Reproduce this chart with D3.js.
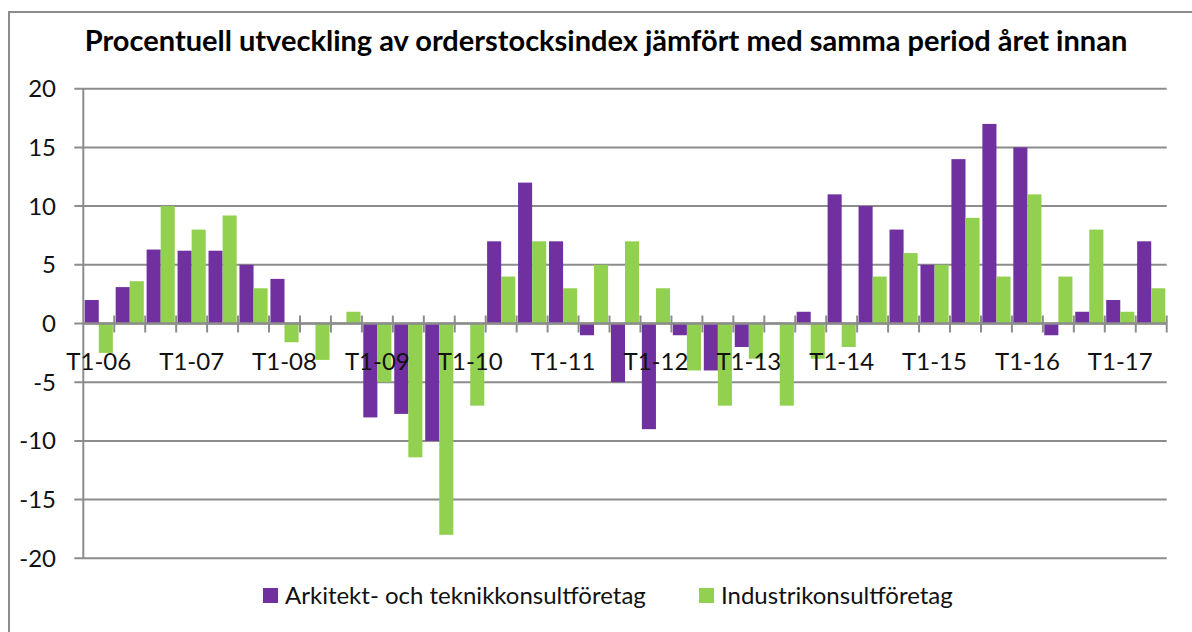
<!DOCTYPE html>
<html>
<head>
<meta charset="utf-8">
<script src="https://cdn.jsdelivr.net/npm/d3@7"></script>
<style>
  html, body { margin: 0; padding: 0; background: #fff; }
  svg { display: block; font-family: Lato, "Open Sans", sans-serif; }
</style>
</head>
<body>
<svg id="chart" width="1192" height="632"></svg>
<script>
// tertialer T1-06 .. T2-17
const categories = [
  'T1-06', 'T2-06', 'T3-06', 'T1-07', 'T2-07', 'T3-07',
  'T1-08', 'T2-08', 'T3-08', 'T1-09', 'T2-09', 'T3-09',
  'T1-10', 'T2-10', 'T3-10', 'T1-11', 'T2-11', 'T3-11',
  'T1-12', 'T2-12', 'T3-12', 'T1-13', 'T2-13', 'T3-13',
  'T1-14', 'T2-14', 'T3-14', 'T1-15', 'T2-15', 'T3-15',
  'T1-16', 'T2-16', 'T3-16', 'T1-17', 'T2-17'
];

const tickLabels = ['T1-06', 'T1-07', 'T1-08', 'T1-09', 'T1-10', 'T1-11',
  'T1-12', 'T1-13', 'T1-14', 'T1-15', 'T1-16', 'T1-17'];

const seriesNames = ['Arkitekt- och teknikkonsultföretag', 'Industrikonsultföretag'];

const arkitekt = [
  2, 3.1, 6.3, 6.2, 6.2, 5,
  3.8, null, null, -8, -7.7, -10,
  null, 7, 12, 7, -1, -5,
  -9, -1, -4, -2, null, 1,
  11, 10, 8, 5, 14, 17,
  15, -1, 1, 2, 7
];

const industri = [
  -2.5, 3.6, 10, 8, 9.2, 3,
  -1.6, -3.1, 1, -5, -11.4, -18,
  -7, 4, 7, 3, 5, 7,
  3, -4, -7, -3, -7, -3,
  -2, 4, 6, 5, 9, 4,
  11, 4, 8, 1, 3
];

const yTicks = [20, 15, 10, 5, 0, -5, -10, -15, -20];

const colors = ['#7030a0', '#92d050'];
const gridColor = '#8c8c8c';

const svg = d3.select('#chart');

// ram runt diagrammet
svg.append('rect')
  .attr('x', 9).attr('y', 12)
  .attr('width', 1200).attr('height', 640)
  .attr('fill', 'none')
  .attr('stroke', gridColor)
  .attr('stroke-width', 2);

const plot = { left: 83.3, right: 1166.7, top: 88.7, bottom: 558.3 };

const x = d3.scaleBand()
  .domain(categories)
  .range([plot.left, plot.right])
  .padding(0);

const xSeries = d3.scaleBand()
  .domain([0, 1])
  .range([0, x.bandwidth()])
  .paddingInner(0)
  .paddingOuter(0.1);

const y = d3.scaleLinear()
  .domain([-20, 20])
  .range([plot.bottom, plot.top]);

// rutnät
svg.append('g')
  .selectAll('line')
  .data(yTicks)
  .join('line')
  .attr('x1', plot.left - 9)
  .attr('x2', plot.right)
  .attr('y1', d => y(d))
  .attr('y2', d => y(d))
  .attr('stroke', gridColor)
  .attr('stroke-width', 2);

// y-axel
svg.append('line')
  .attr('x1', plot.left).attr('x2', plot.left)
  .attr('y1', plot.top).attr('y2', plot.bottom)
  .attr('stroke', gridColor)
  .attr('stroke-width', 2);

svg.append('g')
  .selectAll('text')
  .data(yTicks)
  .join('text')
  .attr('x', 56)
  .attr('y', d => y(d))
  .attr('dy', '0.35em')
  .attr('text-anchor', 'end')
  .style('font-size', '24px')
  .attr('fill', '#111')
  .text(d => d);

// staplar
const series = [arkitekt, industri];
series.forEach((values, s) => {
  svg.append('g')
    .selectAll('rect')
    .data(values.map((v, i) => ({ cat: categories[i], v })).filter(d => d.v !== null))
    .join('rect')
    .attr('x', d => x(d.cat) + xSeries(s))
    .attr('width', xSeries.bandwidth())
    .attr('y', d => y(Math.max(0, d.v)))
    .attr('height', d => Math.abs(y(d.v) - y(0)))
    .attr('fill', colors[s]);
});

// x-axel vid noll med korsande streck
const xAxis = svg.append('g');
xAxis.append('line')
  .attr('x1', plot.left).attr('x2', plot.right)
  .attr('y1', y(0)).attr('y2', y(0))
  .attr('stroke', gridColor)
  .attr('stroke-width', 2.5);

const boundaries = categories.map(c => x(c)).concat([plot.right]).slice(1);
xAxis.selectAll('.tick')
  .data(boundaries)
  .join('line')
  .attr('class', 'tick')
  .attr('x1', d => d).attr('x2', d => d)
  .attr('y1', y(0) - 8).attr('y2', y(0) + 9)
  .attr('stroke', gridColor)
  .attr('stroke-width', 2);

xAxis.selectAll('text')
  .data(tickLabels)
  .join('text')
  .attr('x', d => x(d) + x.bandwidth() / 2)
  .attr('y', 370)
  .attr('text-anchor', 'middle')
  .style('font-size', '24px')
  .attr('fill', '#111')
  .text(d => d);

// rubrik
svg.append('text')
  .attr('x', 606)
  .attr('y', 51)
  .attr('text-anchor', 'middle')
  .style('font-size', '29px')
  .style('font-weight', 'bold')
  .attr('fill', '#000')
  .text('Procentuell utveckling av orderstocksindex jämfört med samma period året innan');

// förklaring
const legendX = [263, 699];
const legend = svg.append('g');
seriesNames.forEach((name, s) => {
  legend.append('rect')
    .attr('x', legendX[s]).attr('y', 588)
    .attr('width', 15).attr('height', 15)
    .attr('fill', colors[s]);
  legend.append('text')
    .attr('x', legendX[s] + 22)
    .attr('y', 604)
    .style('font-size', '24px')
    .attr('fill', '#111')
    .text(name);
});
</script>
</body>
</html>
